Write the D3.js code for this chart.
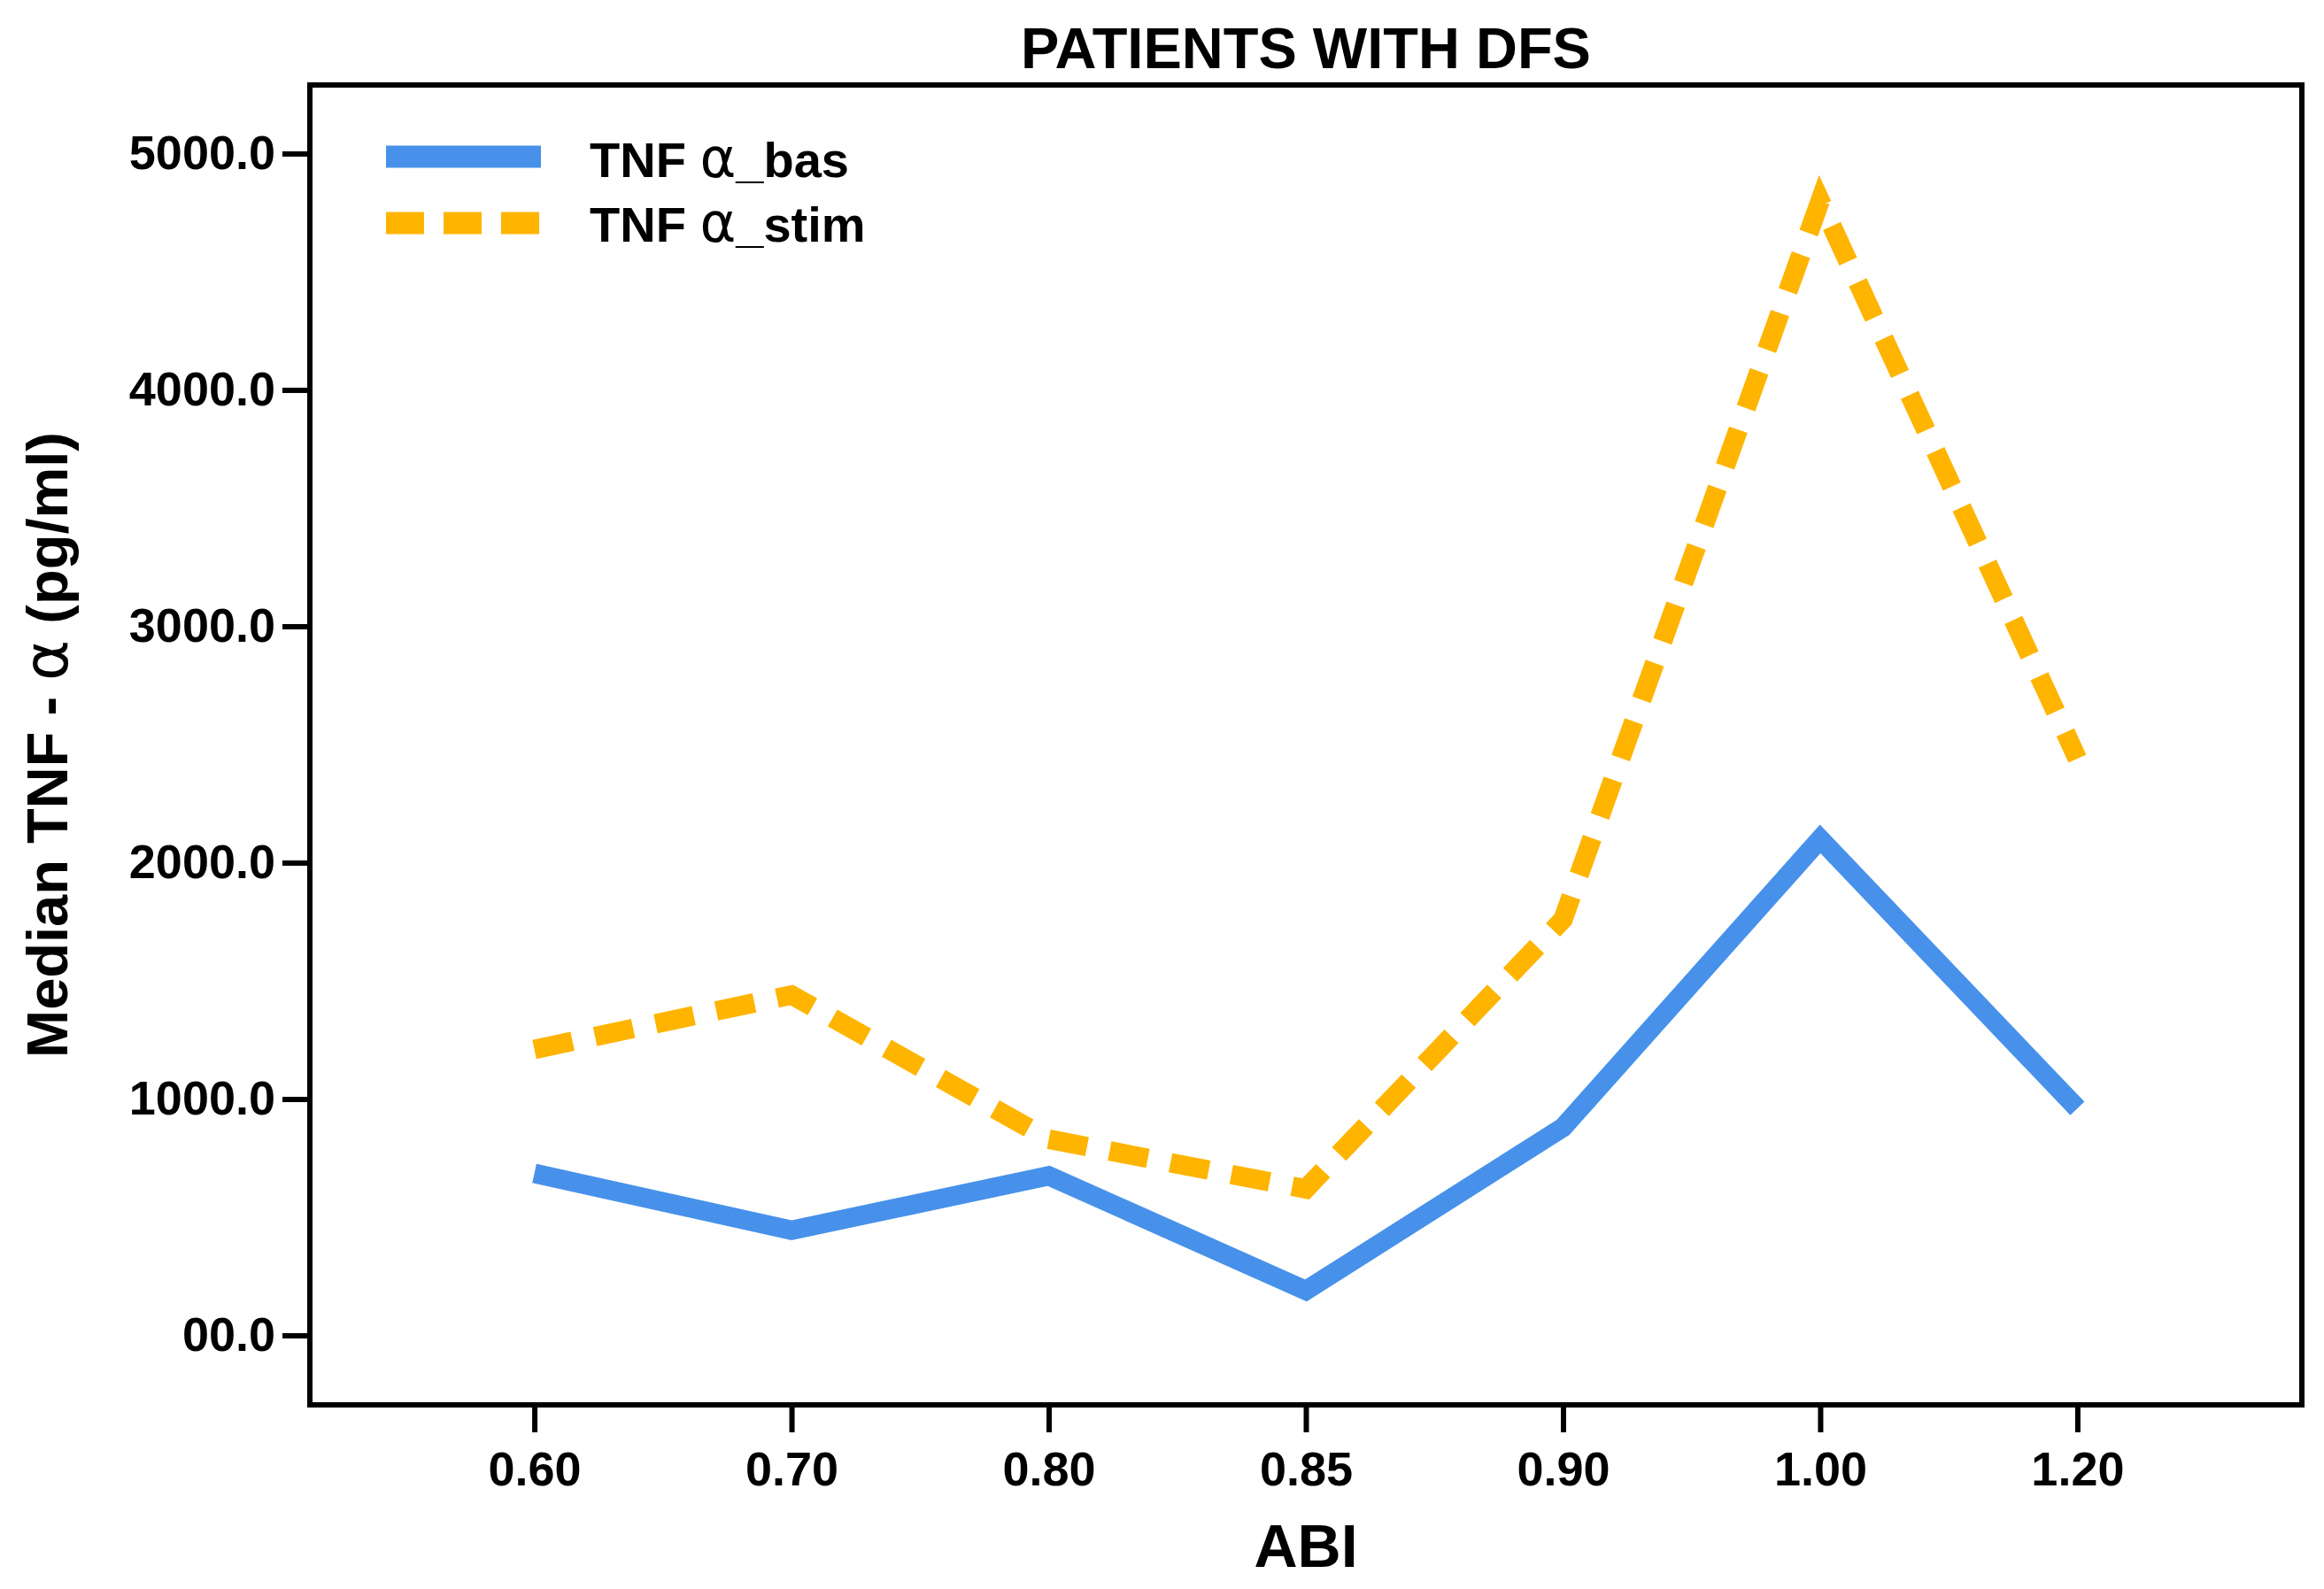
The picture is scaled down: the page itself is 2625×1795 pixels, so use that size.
<!DOCTYPE html>
<html>
<head>
<meta charset="utf-8">
<script src="https://cdn.jsdelivr.net/npm/d3@7"></script>
<style>
  html, body { margin: 0; padding: 0; background: #fff; }
  svg { display: block; }
  text { font-family: "Liberation Sans", Arial, sans-serif; font-weight: bold; fill: #000; }
</style>
</head>
<body>
<div id="chart"></div>
<script>
// ABI categories on the x axis
const abiLabels = ["0.60", "0.70", "0.80", "0.85", "0.90", "1.00", "1.20"];

// Median TNF-alpha (pg/ml)
const tnfBas  = [685, 445, 675, 190, 880, 2100, 960];
const tnfStim = [1210, 1440, 830, 620, 1760, 4800, 2440];

const yTicks = [0, 1000, 2000, 3000, 4000, 5000];

const seriesNames = ["bas", "stim"];

const W = 2625, H = 1795;
const frame = { left: 350, top: 96, right: 2600, bottom: 1587 };

const blue = "#4791ea";
const orange = "#ffb400";

const svg = d3.select("#chart").append("svg")
  .attr("width", W)
  .attr("height", H);

svg.append("rect").attr("width", W).attr("height", H).attr("fill", "#fff");

// scales
const x = d3.scalePoint()
  .domain(abiLabels)
  .range([frame.left, frame.right])
  .padding(0.873);

const y = d3.scaleLinear()
  .domain([-294, 5290])
  .range([frame.bottom, frame.top]);

// y axis (ticks outside the frame)
const yAxis = svg.append("g")
  .attr("transform", `translate(${frame.left - 3},0)`)
  .call(d3.axisLeft(y)
    .tickValues(yTicks)
    .tickSize(28)
    .tickPadding(8)
    .tickFormat(d => d === 0 ? "00.0" : d.toFixed(1)));
yAxis.select(".domain").remove();
yAxis.selectAll(".tick line").attr("stroke", "#000").attr("stroke-width", 6);
yAxis.selectAll(".tick text")
  .attr("font-size", 54)
  .attr("font-family", "'Liberation Sans', Arial, sans-serif")
  .attr("font-weight", "bold")
  .attr("fill", "#000");

// x axis
const xAxis = svg.append("g")
  .attr("transform", `translate(0,${frame.bottom + 3})`)
  .call(d3.axisBottom(x)
    .tickSize(28)
    .tickPadding(22));
xAxis.select(".domain").remove();
xAxis.selectAll(".tick line").attr("stroke", "#000").attr("stroke-width", 6);
xAxis.selectAll(".tick text")
  .attr("font-size", 54)
  .attr("font-family", "'Liberation Sans', Arial, sans-serif")
  .attr("font-weight", "bold")
  .attr("fill", "#000");

// plot frame
svg.append("rect")
  .attr("x", frame.left)
  .attr("y", frame.top)
  .attr("width", frame.right - frame.left)
  .attr("height", frame.bottom - frame.top)
  .attr("fill", "none")
  .attr("stroke", "#000")
  .attr("stroke-width", 6);

// lines
const line = d3.line()
  .x((d, i) => x(abiLabels[i]))
  .y(d => y(d));

svg.append("path")
  .datum(tnfBas)
  .attr("d", line)
  .attr("fill", "none")
  .attr("stroke", blue)
  .attr("stroke-width", 22)
  .attr("stroke-linejoin", "miter");

svg.append("path")
  .datum(tnfStim)
  .attr("d", line)
  .attr("fill", "none")
  .attr("stroke", orange)
  .attr("stroke-width", 22)
  .attr("stroke-linejoin", "miter")
  .attr("stroke-dasharray", "44,26");

// legend
const legend = svg.append("g");
const legendRows = [
  { name: seriesNames[0], color: blue, dash: null, cy: 177, base: 200 },
  { name: seriesNames[1], color: orange, dash: "43,22", cy: 252, base: 273 }
];
legendRows.forEach(r => {
  legend.append("line")
    .attr("x1", 436).attr("x2", 611)
    .attr("y1", r.cy).attr("y2", r.cy)
    .attr("stroke", r.color)
    .attr("stroke-width", 25)
    .attr("stroke-dasharray", r.dash);
  const t = legend.append("text")
    .attr("x", 666)
    .attr("y", r.base)
    .attr("font-size", 56);
  t.append("tspan").text("TNF ");
  t.append("tspan")
    .attr("font-family", "'DejaVu Sans', sans-serif")
    .attr("font-weight", "normal")
    .attr("font-size", 62)
    .text("\u03B1");
  t.append("tspan").text("_" + r.name);
});

// title
svg.append("text")
  .attr("x", (frame.left + frame.right) / 2)
  .attr("y", 77)
  .attr("text-anchor", "middle")
  .attr("font-size", 65)
  .text("PATIENTS WITH DFS");

// x title
svg.append("text")
  .attr("x", (frame.left + frame.right) / 2)
  .attr("y", 1770)
  .attr("text-anchor", "middle")
  .attr("font-size", 68)
  .text("ABI");

// y title
const yTitle = svg.append("text")
  .attr("transform", `translate(76,${(frame.top + frame.bottom) / 2}) rotate(-90)`)
  .attr("text-anchor", "middle")
  .attr("font-size", 65);
yTitle.append("tspan").text("Median TNF - ");
yTitle.append("tspan")
  .attr("font-family", "'DejaVu Sans', sans-serif")
  .attr("font-weight", "normal")
  .attr("font-size", 70)
  .text("\u03B1");
yTitle.append("tspan").text(" (pg/ml)");
</script>
</body>
</html>
